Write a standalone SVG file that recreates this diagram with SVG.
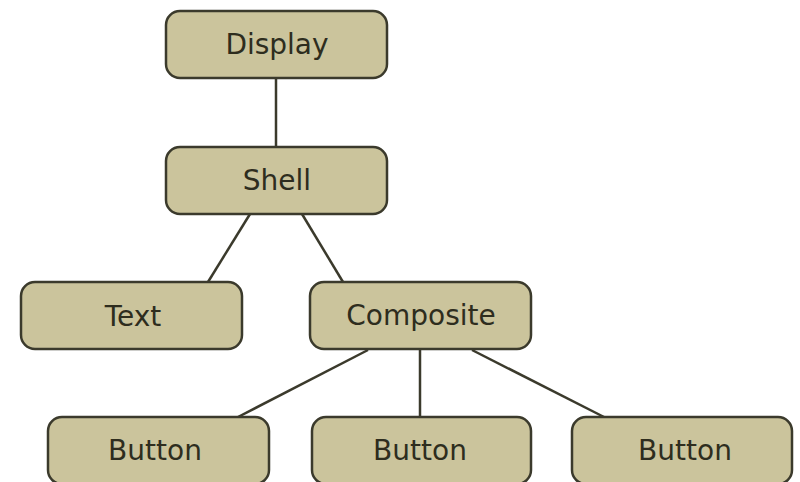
<svg xmlns="http://www.w3.org/2000/svg" width="800" height="482" viewBox="0 0 800 482">
<style>
.node rect{fill:#cbc49c;stroke:#3b3a2c;stroke-width:2.5}
.node text{font-family:"DejaVu Sans",sans-serif;font-size:28px;fill:#2e2d1e;text-anchor:middle;dominant-baseline:central}
.edges line{stroke:#3b3a2c;stroke-width:2.5}
</style>
<rect width="800" height="482" fill="#ffffff"/>
<g class="edges">
<line x1="276" y1="79" x2="276" y2="147"/>
<line x1="250" y1="214" x2="208" y2="282"/>
<line x1="302" y1="214" x2="343" y2="282"/>
<line x1="368" y1="350" x2="238" y2="417"/>
<line x1="420" y1="350" x2="420" y2="417"/>
<line x1="472" y1="350" x2="604" y2="417"/>
</g>
<g id="display" class="node"><rect x="166" y="11" width="221" height="67" rx="14"/><text x="277" y="44">Display</text></g>
<g id="shell" class="node"><rect x="166" y="147" width="221" height="67" rx="14"/><text x="277" y="180">Shell</text></g>
<g id="text" class="node"><rect x="21" y="282" width="221" height="67" rx="14"/><text x="133" y="316">Text</text></g>
<g id="composite" class="node"><rect x="310" y="282" width="221" height="67" rx="14"/><text x="421" y="315">Composite</text></g>
<g id="button1" class="node"><rect x="48" y="417" width="221" height="67" rx="14"/><text x="155" y="450">Button</text></g>
<g id="button2" class="node"><rect x="312" y="417" width="219" height="67" rx="14"/><text x="420" y="450">Button</text></g>
<g id="button3" class="node"><rect x="572" y="417" width="220" height="67" rx="14"/><text x="685" y="450">Button</text></g>
</svg>
